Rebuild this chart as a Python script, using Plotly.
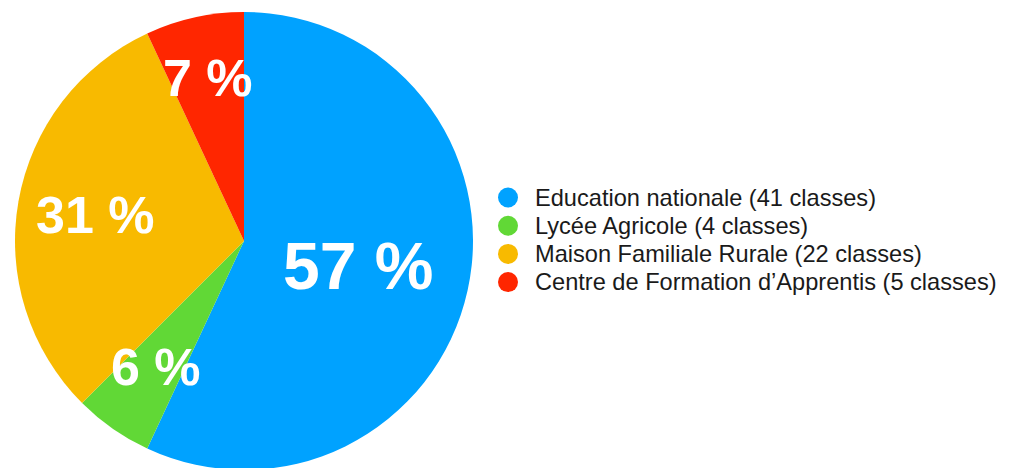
import math
import plotly.graph_objects as go

# données
labels = ["Education nationale (41 classes)", "Lycée Agricole (4 classes)",
          "Maison Familiale Rurale (22 classes)", "Centre de Formation d’Apprentis (5 classes)"]
classes = [41, 4, 22, 5]
colors = ["#00A2FF", "#61D836", "#F8BA00", "#FF2600"]

W, H = 1009, 468
mt, mb = 4, 6
cx, cy, R = 236, 233, 229  # centre / rayon du camembert en pixels

# position radiale des étiquettes (fraction du rayon) et taille de police
label_r = [0.51, 0.67, 0.66, 0.73]
label_size = [66, 52, 52, 52]

# légende faite à la main (pastilles rondes, interligne serré)
leg_x, leg_y0, leg_dy, leg_d = 500, 189.5, 28.2, 20


def px_x(px):
    return px / W


def px_y(py):
    return (H - mb - py) / (H - mt - mb)


fig = go.Figure()

fig.add_trace(go.Pie(
    labels=labels,
    values=classes,
    marker=dict(colors=colors, line=dict(width=0)),
    sort=False,
    direction="clockwise",
    rotation=0,
    textinfo="none",
    showlegend=False,
    domain=dict(x=[(cx - R) / W, (cx + R) / W], y=[0, 1]),
))

# étiquettes de pourcentage
total = sum(classes)
cum = 0
for v, r, s in zip(classes, label_r, label_size):
    mid = (cum + v / 2) / total * 2 * math.pi
    cum += v
    px = cx + r * R * math.sin(mid)
    py = cy - r * R * math.cos(mid)
    fig.add_annotation(
        text=f"<b>{round(v / total * 100)} %</b>",
        x=px_x(px), y=px_y(py),
        xref="paper", yref="paper",
        showarrow=False, xanchor="center", yanchor="middle",
        font=dict(size=s, color="white", family="Liberation Sans"),
    )

# légende
for i, (lab, col) in enumerate(zip(labels, colors)):
    yc = leg_y0 + i * leg_dy
    fig.add_shape(
        type="circle", xref="paper", yref="paper",
        x0=px_x(leg_x - leg_d / 2), x1=px_x(leg_x + leg_d / 2),
        y0=px_y(yc + leg_d / 2), y1=px_y(yc - leg_d / 2),
        fillcolor=col, line=dict(width=0),
    )
    fig.add_annotation(
        text=lab, x=px_x(leg_x + 25), y=px_y(yc),
        xref="paper", yref="paper",
        showarrow=False, xanchor="left", yanchor="middle",
        font=dict(size=23.6, color="#1a1a1a", family="Liberation Sans"),
    )

fig.update_layout(
    width=W, height=H,
    margin=dict(l=0, r=0, t=mt, b=mb),
    paper_bgcolor="white",
    plot_bgcolor="white",
    showlegend=False,
)

fig.write_html("out.html")
